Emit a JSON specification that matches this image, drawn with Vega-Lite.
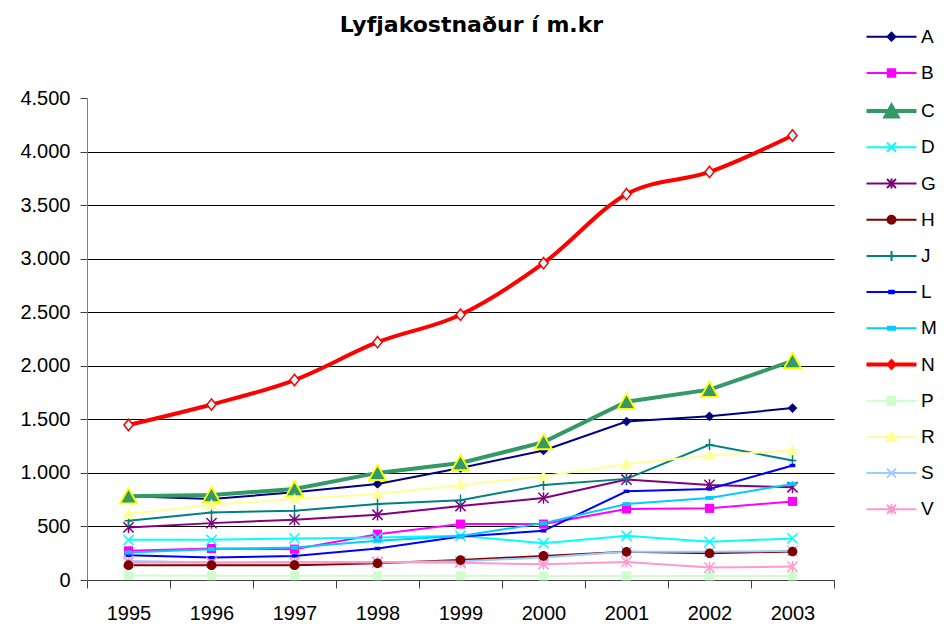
{
  "$schema": "https://vega.github.io/schema/vega-lite/v6.json",
  "width": 747,
  "height": 482,
  "autosize": "none",
  "padding": {"left": 87, "top": 98, "right": 114, "bottom": 44},
  "background": "white",
  "config": {
    "view": {"stroke": null},
    "font": "Liberation Sans"
  },
  "title": {
    "text": "Lyfjakostnaður í m.kr",
    "font": "DejaVu Sans",
    "fontSize": 22,
    "fontWeight": "bold",
    "color": "#000000",
    "anchor": "middle",
    "dx": 11,
    "dy": 27,
    "baseline": "alphabetic",
    "offset": 0
  },
  "data": {
    "values": [
      {"series": "A", "year": "1995", "value": 781},
      {"series": "A", "year": "1996", "value": 756},
      {"series": "A", "year": "1997", "value": 819},
      {"series": "A", "year": "1998", "value": 897},
      {"series": "A", "year": "1999", "value": 1045},
      {"series": "A", "year": "2000", "value": 1209},
      {"series": "A", "year": "2001", "value": 1480},
      {"series": "A", "year": "2002", "value": 1528},
      {"series": "A", "year": "2003", "value": 1605},
      {"series": "B", "year": "1995", "value": 272},
      {"series": "B", "year": "1996", "value": 294},
      {"series": "B", "year": "1997", "value": 288},
      {"series": "B", "year": "1998", "value": 428},
      {"series": "B", "year": "1999", "value": 522},
      {"series": "B", "year": "2000", "value": 522},
      {"series": "B", "year": "2001", "value": 663},
      {"series": "B", "year": "2002", "value": 669},
      {"series": "B", "year": "2003", "value": 734},
      {"series": "C", "year": "1995", "value": 781},
      {"series": "C", "year": "1996", "value": 794},
      {"series": "C", "year": "1997", "value": 850},
      {"series": "C", "year": "1998", "value": 1000},
      {"series": "C", "year": "1999", "value": 1092},
      {"series": "C", "year": "2000", "value": 1287},
      {"series": "C", "year": "2001", "value": 1665},
      {"series": "C", "year": "2002", "value": 1777},
      {"series": "C", "year": "2003", "value": 2045},
      {"series": "D", "year": "1995", "value": 375},
      {"series": "D", "year": "1996", "value": 375},
      {"series": "D", "year": "1997", "value": 388},
      {"series": "D", "year": "1998", "value": 397},
      {"series": "D", "year": "1999", "value": 413},
      {"series": "D", "year": "2000", "value": 344},
      {"series": "D", "year": "2001", "value": 413},
      {"series": "D", "year": "2002", "value": 356},
      {"series": "D", "year": "2003", "value": 388},
      {"series": "G", "year": "1995", "value": 491},
      {"series": "G", "year": "1996", "value": 531},
      {"series": "G", "year": "1997", "value": 563},
      {"series": "G", "year": "1998", "value": 609},
      {"series": "G", "year": "1999", "value": 691},
      {"series": "G", "year": "2000", "value": 766},
      {"series": "G", "year": "2001", "value": 938},
      {"series": "G", "year": "2002", "value": 888},
      {"series": "G", "year": "2003", "value": 866},
      {"series": "H", "year": "1995", "value": 138},
      {"series": "H", "year": "1996", "value": 138},
      {"series": "H", "year": "1997", "value": 138},
      {"series": "H", "year": "1998", "value": 156},
      {"series": "H", "year": "1999", "value": 186},
      {"series": "H", "year": "2000", "value": 225},
      {"series": "H", "year": "2001", "value": 263},
      {"series": "H", "year": "2002", "value": 250},
      {"series": "H", "year": "2003", "value": 266},
      {"series": "J", "year": "1995", "value": 553},
      {"series": "J", "year": "1996", "value": 631},
      {"series": "J", "year": "1997", "value": 647},
      {"series": "J", "year": "1998", "value": 709},
      {"series": "J", "year": "1999", "value": 745},
      {"series": "J", "year": "2000", "value": 888},
      {"series": "J", "year": "2001", "value": 944},
      {"series": "J", "year": "2002", "value": 1263},
      {"series": "J", "year": "2003", "value": 1116},
      {"series": "L", "year": "1995", "value": 231},
      {"series": "L", "year": "1996", "value": 209},
      {"series": "L", "year": "1997", "value": 225},
      {"series": "L", "year": "1998", "value": 294},
      {"series": "L", "year": "1999", "value": 405},
      {"series": "L", "year": "2000", "value": 459},
      {"series": "L", "year": "2001", "value": 828},
      {"series": "L", "year": "2002", "value": 850},
      {"series": "L", "year": "2003", "value": 1069},
      {"series": "M", "year": "1995", "value": 256},
      {"series": "M", "year": "1996", "value": 288},
      {"series": "M", "year": "1997", "value": 303},
      {"series": "M", "year": "1998", "value": 366},
      {"series": "M", "year": "1999", "value": 410},
      {"series": "M", "year": "2000", "value": 531},
      {"series": "M", "year": "2001", "value": 709},
      {"series": "M", "year": "2002", "value": 766},
      {"series": "M", "year": "2003", "value": 897},
      {"series": "N", "year": "1995", "value": 1447},
      {"series": "N", "year": "1996", "value": 1638},
      {"series": "N", "year": "1997", "value": 1867},
      {"series": "N", "year": "1998", "value": 2220},
      {"series": "N", "year": "1999", "value": 2477},
      {"series": "N", "year": "2000", "value": 2958},
      {"series": "N", "year": "2001", "value": 3602},
      {"series": "N", "year": "2002", "value": 3810},
      {"series": "N", "year": "2003", "value": 4150},
      {"series": "P", "year": "1995", "value": 42},
      {"series": "P", "year": "1996", "value": 40},
      {"series": "P", "year": "1997", "value": 40},
      {"series": "P", "year": "1998", "value": 40},
      {"series": "P", "year": "1999", "value": 40},
      {"series": "P", "year": "2000", "value": 38},
      {"series": "P", "year": "2001", "value": 38},
      {"series": "P", "year": "2002", "value": 38},
      {"series": "P", "year": "2003", "value": 38},
      {"series": "R", "year": "1995", "value": 616},
      {"series": "R", "year": "1996", "value": 700},
      {"series": "R", "year": "1997", "value": 756},
      {"series": "R", "year": "1998", "value": 803},
      {"series": "R", "year": "1999", "value": 887},
      {"series": "R", "year": "2000", "value": 969},
      {"series": "R", "year": "2001", "value": 1084},
      {"series": "R", "year": "2002", "value": 1163},
      {"series": "R", "year": "2003", "value": 1209},
      {"series": "S", "year": "1995", "value": 178},
      {"series": "S", "year": "1996", "value": 163},
      {"series": "S", "year": "1997", "value": 169},
      {"series": "S", "year": "1998", "value": 163},
      {"series": "S", "year": "1999", "value": 175},
      {"series": "S", "year": "2000", "value": 209},
      {"series": "S", "year": "2001", "value": 263},
      {"series": "S", "year": "2002", "value": 263},
      {"series": "S", "year": "2003", "value": 272},
      {"series": "V", "year": "1995", "value": 163},
      {"series": "V", "year": "1996", "value": 163},
      {"series": "V", "year": "1997", "value": 163},
      {"series": "V", "year": "1998", "value": 169},
      {"series": "V", "year": "1999", "value": 160},
      {"series": "V", "year": "2000", "value": 147},
      {"series": "V", "year": "2001", "value": 169},
      {"series": "V", "year": "2002", "value": 116},
      {"series": "V", "year": "2003", "value": 125}
    ]
  },
  "encoding": {
    "x": {
      "field": "year",
      "type": "ordinal",
      "scale": {"type": "band", "paddingInner": 0, "paddingOuter": 0},
      "axis": {
        "title": null,
        "labelAngle": 0,
        "labelFont": "Liberation Sans",
        "labelFontSize": 20,
        "labelColor": "#000000",
        "labelPadding": 15,
        "tickBand": "extent",
        "tickSize": 8,
        "tickColor": "#404040",
        "domainColor": "#404040",
        "grid": false
      }
    },
    "y": {
      "field": "value",
      "type": "quantitative",
      "scale": {"domain": [0, 4500], "nice": false},
      "axis": {
        "title": null,
        "values": [0, 500, 1000, 1500, 2000, 2500, 3000, 3500, 4000, 4500],
        "labelExpr": "replace(format(datum.value, ','), ',', '.')",
        "labelFont": "Liberation Sans",
        "labelFontSize": 20,
        "labelColor": "#000000",
        "labelPadding": 10,
        "tickSize": 7,
        "tickColor": "#404040",
        "domainColor": "#808080",
        "grid": true,
        "gridColor": {"condition": {"test": "datum.value == 4500", "value": "transparent"}, "value": "#000000"},
        "gridWidth": 1
      }
    },
    "color": {
      "field": "series",
      "type": "nominal",
      "scale": {
        "domain": ["A","B","C","D","G","H","J","L","M","N","P","R","S","V"],
        "range": ["#000080","#FF00FF","#339966","#00FFFF","#800080","#800000","#008080","#0000FF","#00CCFF","#FF0000","#CCFFCC","#FFFF99","#99CCFF","#FF99CC"]
      },
      "legend": {
        "orient": "none",
        "legendX": 795,
        "legendY": -70.8,
        "title": null,
        "padding": 0,
        "labelFont": "Liberation Sans",
        "labelFontSize": 19,
        "labelColor": "#000000",
        "labelOffset": 20,
        "symbolOffset": 0,
        "rowPadding": 16.2,
        "symbolSize": 100,
        "symbolStrokeWidth": 2,
        "symbolOpacity": 1
      }
    }
  },
  "layer": [
    {
      "transform": [{"filter": "datum.series != 'N' && datum.series != 'C'"}],
      "mark": {"type": "line", "strokeWidth": 2}
    },
    {
      "transform": [{"filter": "datum.series == 'C'"}],
      "mark": {"type": "line", "strokeWidth": 4}
    },
    {
      "transform": [{"filter": "datum.series == 'N'"}],
      "mark": {"type": "line", "strokeWidth": 4, "interpolate": "cardinal"}
    },
    {
      "transform": [{"filter": "datum.value < 0"}],
      "mark": {"type": "point", "filled": true, "size": 100, "strokeWidth": 2, "opacity": 1},
      "encoding": {
        "shape": {
          "field": "series",
          "type": "nominal",
          "scale": {
            "domain": ["A","B","C","D","G","H","J","L","M","N","P","R","S","V"],
            "range": [
              "M-5,0L5,0M0,-0.8L0.8,0L0,0.8L-0.8,0Z",
              "M-5,0L5,0M-0.75,-0.75L0.75,-0.75L0.75,0.75L-0.75,0.75Z",
              "M-5,-0.2L5,-0.2M-5,0.2L5,0.2M0,-1.4L1.5,1.3L-1.5,1.3Z",
              "M-5,0L5,0M-0.9,-0.9L0.9,0.9M-0.9,0.9L0.9,-0.9",
              "M-5,0L5,0M-0.9,-0.9L0.9,0.9M-0.9,0.9L0.9,-0.9M0,-1L0,1",
              "M-5,0L5,0M-0.8,0A0.8,0.8,0,1,1,0.8,0A0.8,0.8,0,1,1,-0.8,0Z",
              "M-5,0L5,0M0,-1L0,1",
              "M-5,0L5,0M-0.45,-0.25L0.45,-0.25L0.45,0.25L-0.45,0.25Z",
              "M-5,0L5,0M-0.7,-0.3L0.7,-0.3L0.7,0.3L-0.7,0.3Z",
              "M-5,-0.2L-0.8,-0.2M-5,0.2L-0.8,0.2M0.8,-0.2L5,-0.2M0.8,0.2L5,0.2M0,-0.9L0.8,0L0,0.9L-0.8,0Z",
              "M-5,0L5,0M-0.75,-0.75L0.75,-0.75L0.75,0.75L-0.75,0.75Z",
              "M-5,0L5,0M0,-1L1,0.8L-1,0.8Z",
              "M-5,0L5,0M-0.9,-0.9L0.9,0.9M-0.9,0.9L0.9,-0.9",
              "M-5,0L5,0M-0.9,-0.9L0.9,0.9M-0.9,0.9L0.9,-0.9M0,-1L0,1"
            ]
          }
        },
        "fill": {
          "field": "series",
          "type": "nominal",
          "scale": {
            "domain": ["A","B","C","D","G","H","J","L","M","N","P","R","S","V"],
            "range": ["#000080","#FF00FF","#339966","transparent","transparent","#800000","transparent","#0000FF","#00CCFF","#FFFFFF","#CCFFCC","#FFFF99","transparent","transparent"]
          }
        }
      }
    },
    {
      "transform": [{"filter": "datum.series == 'A'"}],
      "mark": {"type": "point", "filled": true, "opacity": 1, "size": 130, "shape": "M0,-0.85L0.85,0L0,0.85L-0.85,0Z"}
    },
    {
      "transform": [{"filter": "datum.series == 'B' || datum.series == 'P'"}],
      "mark": {"type": "point", "filled": true, "opacity": 1, "size": 130, "shape": "M-0.8,-0.8L0.8,-0.8L0.8,0.8L-0.8,0.8Z"}
    },
    {
      "transform": [{"filter": "datum.series == 'C'"}],
      "mark": {"type": "point", "filled": true, "opacity": 1, "size": 130, "stroke": "#FFFF00", "strokeWidth": 1.8, "shape": "M0,-1.4L1.5,1.25L-1.5,1.25Z"}
    },
    {
      "transform": [{"filter": "datum.series == 'D' || datum.series == 'S'"}],
      "mark": {"type": "point", "filled": false, "opacity": 1, "size": 130, "strokeWidth": 1.5, "shape": "M-0.9,-0.9L0.9,0.9M-0.9,0.9L0.9,-0.9"}
    },
    {
      "transform": [{"filter": "datum.series == 'G' || datum.series == 'V'"}],
      "mark": {"type": "point", "filled": false, "opacity": 1, "size": 130, "strokeWidth": 1.5, "shape": "M-0.9,-0.9L0.9,0.9M-0.9,0.9L0.9,-0.9M0,-1L0,1"}
    },
    {
      "transform": [{"filter": "datum.series == 'H'"}],
      "mark": {"type": "point", "filled": true, "opacity": 1, "size": 130, "shape": "M-0.85,0A0.85,0.85,0,1,1,0.85,0A0.85,0.85,0,1,1,-0.85,0Z"}
    },
    {
      "transform": [{"filter": "datum.series == 'J'"}],
      "mark": {"type": "point", "filled": false, "opacity": 1, "size": 130, "strokeWidth": 1.5, "shape": "M-0.7,0L0.7,0M0,-1L0,1"}
    },
    {
      "transform": [{"filter": "datum.series == 'L'"}],
      "mark": {"type": "point", "filled": true, "opacity": 1, "size": 130, "shape": "M-0.5,-0.3L0.5,-0.3L0.5,0.3L-0.5,0.3Z"}
    },
    {
      "transform": [{"filter": "datum.series == 'M'"}],
      "mark": {"type": "point", "filled": true, "opacity": 1, "size": 130, "shape": "M-0.7,-0.35L0.7,-0.35L0.7,0.35L-0.7,0.35Z"}
    },
    {
      "transform": [{"filter": "datum.series == 'N'"}],
      "mark": {"type": "point", "filled": false, "opacity": 1, "size": 130, "strokeWidth": 1.5, "fill": "#CCFFFF", "shape": "M0,-1L0.8,0L0,1L-0.8,0Z"}
    },
    {
      "transform": [{"filter": "datum.series == 'R'"}],
      "mark": {"type": "point", "filled": true, "opacity": 1, "size": 130, "shape": "M0,-1.05L1.05,0.85L-1.05,0.85Z"}
    }
  ]
}
